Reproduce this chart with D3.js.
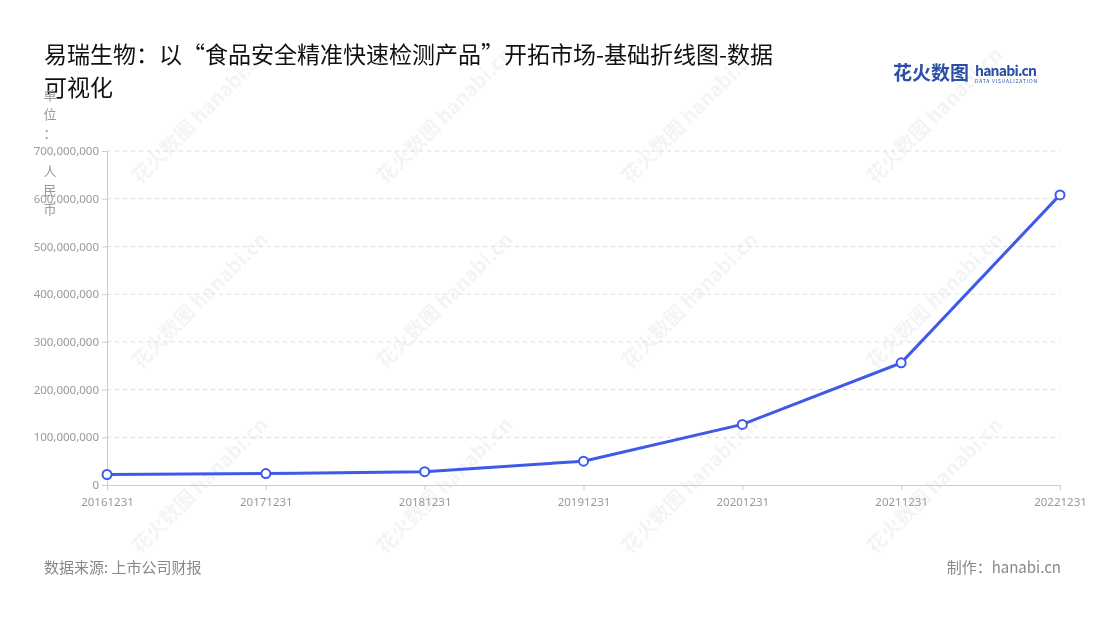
<!DOCTYPE html>
<html><head><meta charset="utf-8">
<script src="https://cdn.jsdelivr.net/npm/d3@7"></script>
<style>body{margin:0;background:#fff;font-family:"Noto Sans CJK SC","Noto Sans",sans-serif}</style>
</head><body><svg id="c" width="1100" height="620"></svg>
<script>
const dates = ['20161231','20171231','20181231','20191231','20201231','20211231','20221231'];
const revenue = [22000000, 24000000, 28000000, 50000000, 127000000, 256000000, 608000000];
const yTicks = [0,100000000,200000000,300000000,400000000,500000000,600000000,700000000];

const svg = d3.select('#c');
const mLeft = 107, mRight = 1060, mTop = 151, mBottom = 485;

// watermarks
const wm = svg.append('g').attr('fill', '#000').attr('opacity', 0.045).attr('font-weight', 'bold');
for (let i = 0; i < 4; i++) for (let j = 0; j < 3; j++) {
  wm.append('text').attr('transform', `translate(${140 + i * 245},${185 + j * 185}) rotate(-45)`)
    .attr('font-size', 20).text('花火数图 hanabi.cn');
}

svg.append('text').attr('x', 44).attr('y', 63).attr('font-size', 23).attr('fill', '#111')
  .text('易瑞生物：以“食品安全精准快速检测产品”开拓市场-基础折线图-数据');
svg.append('text').attr('x', 44).attr('y', 96).attr('font-size', 23).attr('fill', '#111').text('可视化');

const logo = svg.append('g');
logo.append('text').attr('x', 893).attr('y', 80).attr('font-size', 19).attr('font-weight', 'bold').attr('fill', '#2a4fa8').text('花火数图');
logo.append('text').attr('x', 975).attr('y', 76).attr('font-size', 14).attr('font-weight', 'bold').attr('fill', '#2a4fa8').attr('textLength', 62).text('hanabi.cn');
logo.append('text').attr('x', 975).attr('y', 83).attr('font-size', 5).attr('fill', '#2a4fa8').attr('textLength', 62).text('DATA VISUALIZATION');

const x = d3.scalePoint().domain(dates).range([mLeft, mRight]);
const y = d3.scaleLinear().domain([0, 700000000]).range([mBottom, mTop]);

svg.append('g').selectAll('line').data(yTicks.slice(1)).join('line')
  .attr('x1', mLeft).attr('x2', mRight).attr('y1', d => y(d)).attr('y2', d => y(d))
  .attr('stroke', '#ddd').attr('stroke-dasharray', '4,4');

const ya = svg.append('g').attr('transform', `translate(${mLeft},0)`)
  .call(d3.axisLeft(y).tickValues(yTicks).tickFormat(d3.format(',')).tickSize(5));
ya.select('.domain').attr('stroke', '#ccc');
ya.selectAll('line').attr('stroke', '#ccc');
ya.selectAll('text').attr('fill', '#999').attr('font-size', 11.5).attr('font-family', 'Noto Sans');

const xa = svg.append('g').attr('transform', `translate(0,${mBottom})`)
  .call(d3.axisBottom(x).tickSize(5));
xa.select('.domain').attr('stroke', '#ccc');
xa.selectAll('line').attr('stroke', '#ccc');
xa.selectAll('text').attr('fill', '#999').attr('font-size', 11.5).attr('font-family', 'Noto Sans').attr('dy', '1.1em');

'单位：人民币'.split('').forEach((c, i) => {
  svg.append('text').attr('x', 50).attr('y', 100 + (i < 3 ? i : i + 1) * 19).attr('text-anchor', 'middle')
    .attr('font-size', 13).attr('fill', '#999').text(c);
});

const line = d3.line().x((d, i) => x(dates[i])).y(d => y(d));
svg.append('path').datum(revenue).attr('d', line).attr('fill', 'none')
  .attr('stroke', '#3d5ae8').attr('stroke-width', 3);
svg.append('g').selectAll('circle').data(revenue).join('circle')
  .attr('cx', (d, i) => x(dates[i])).attr('cy', d => y(d)).attr('r', 4.5)
  .attr('fill', '#fff').attr('stroke', '#3d5ae8').attr('stroke-width', 2);

svg.append('text').attr('x', 44).attr('y', 573).attr('font-size', 15).attr('fill', '#888').text('数据来源: 上市公司财报');
svg.append('text').attr('x', 1061).attr('y', 573).attr('text-anchor', 'end').attr('font-size', 15).attr('fill', '#888').text('制作：hanabi.cn');
</script></body></html>
